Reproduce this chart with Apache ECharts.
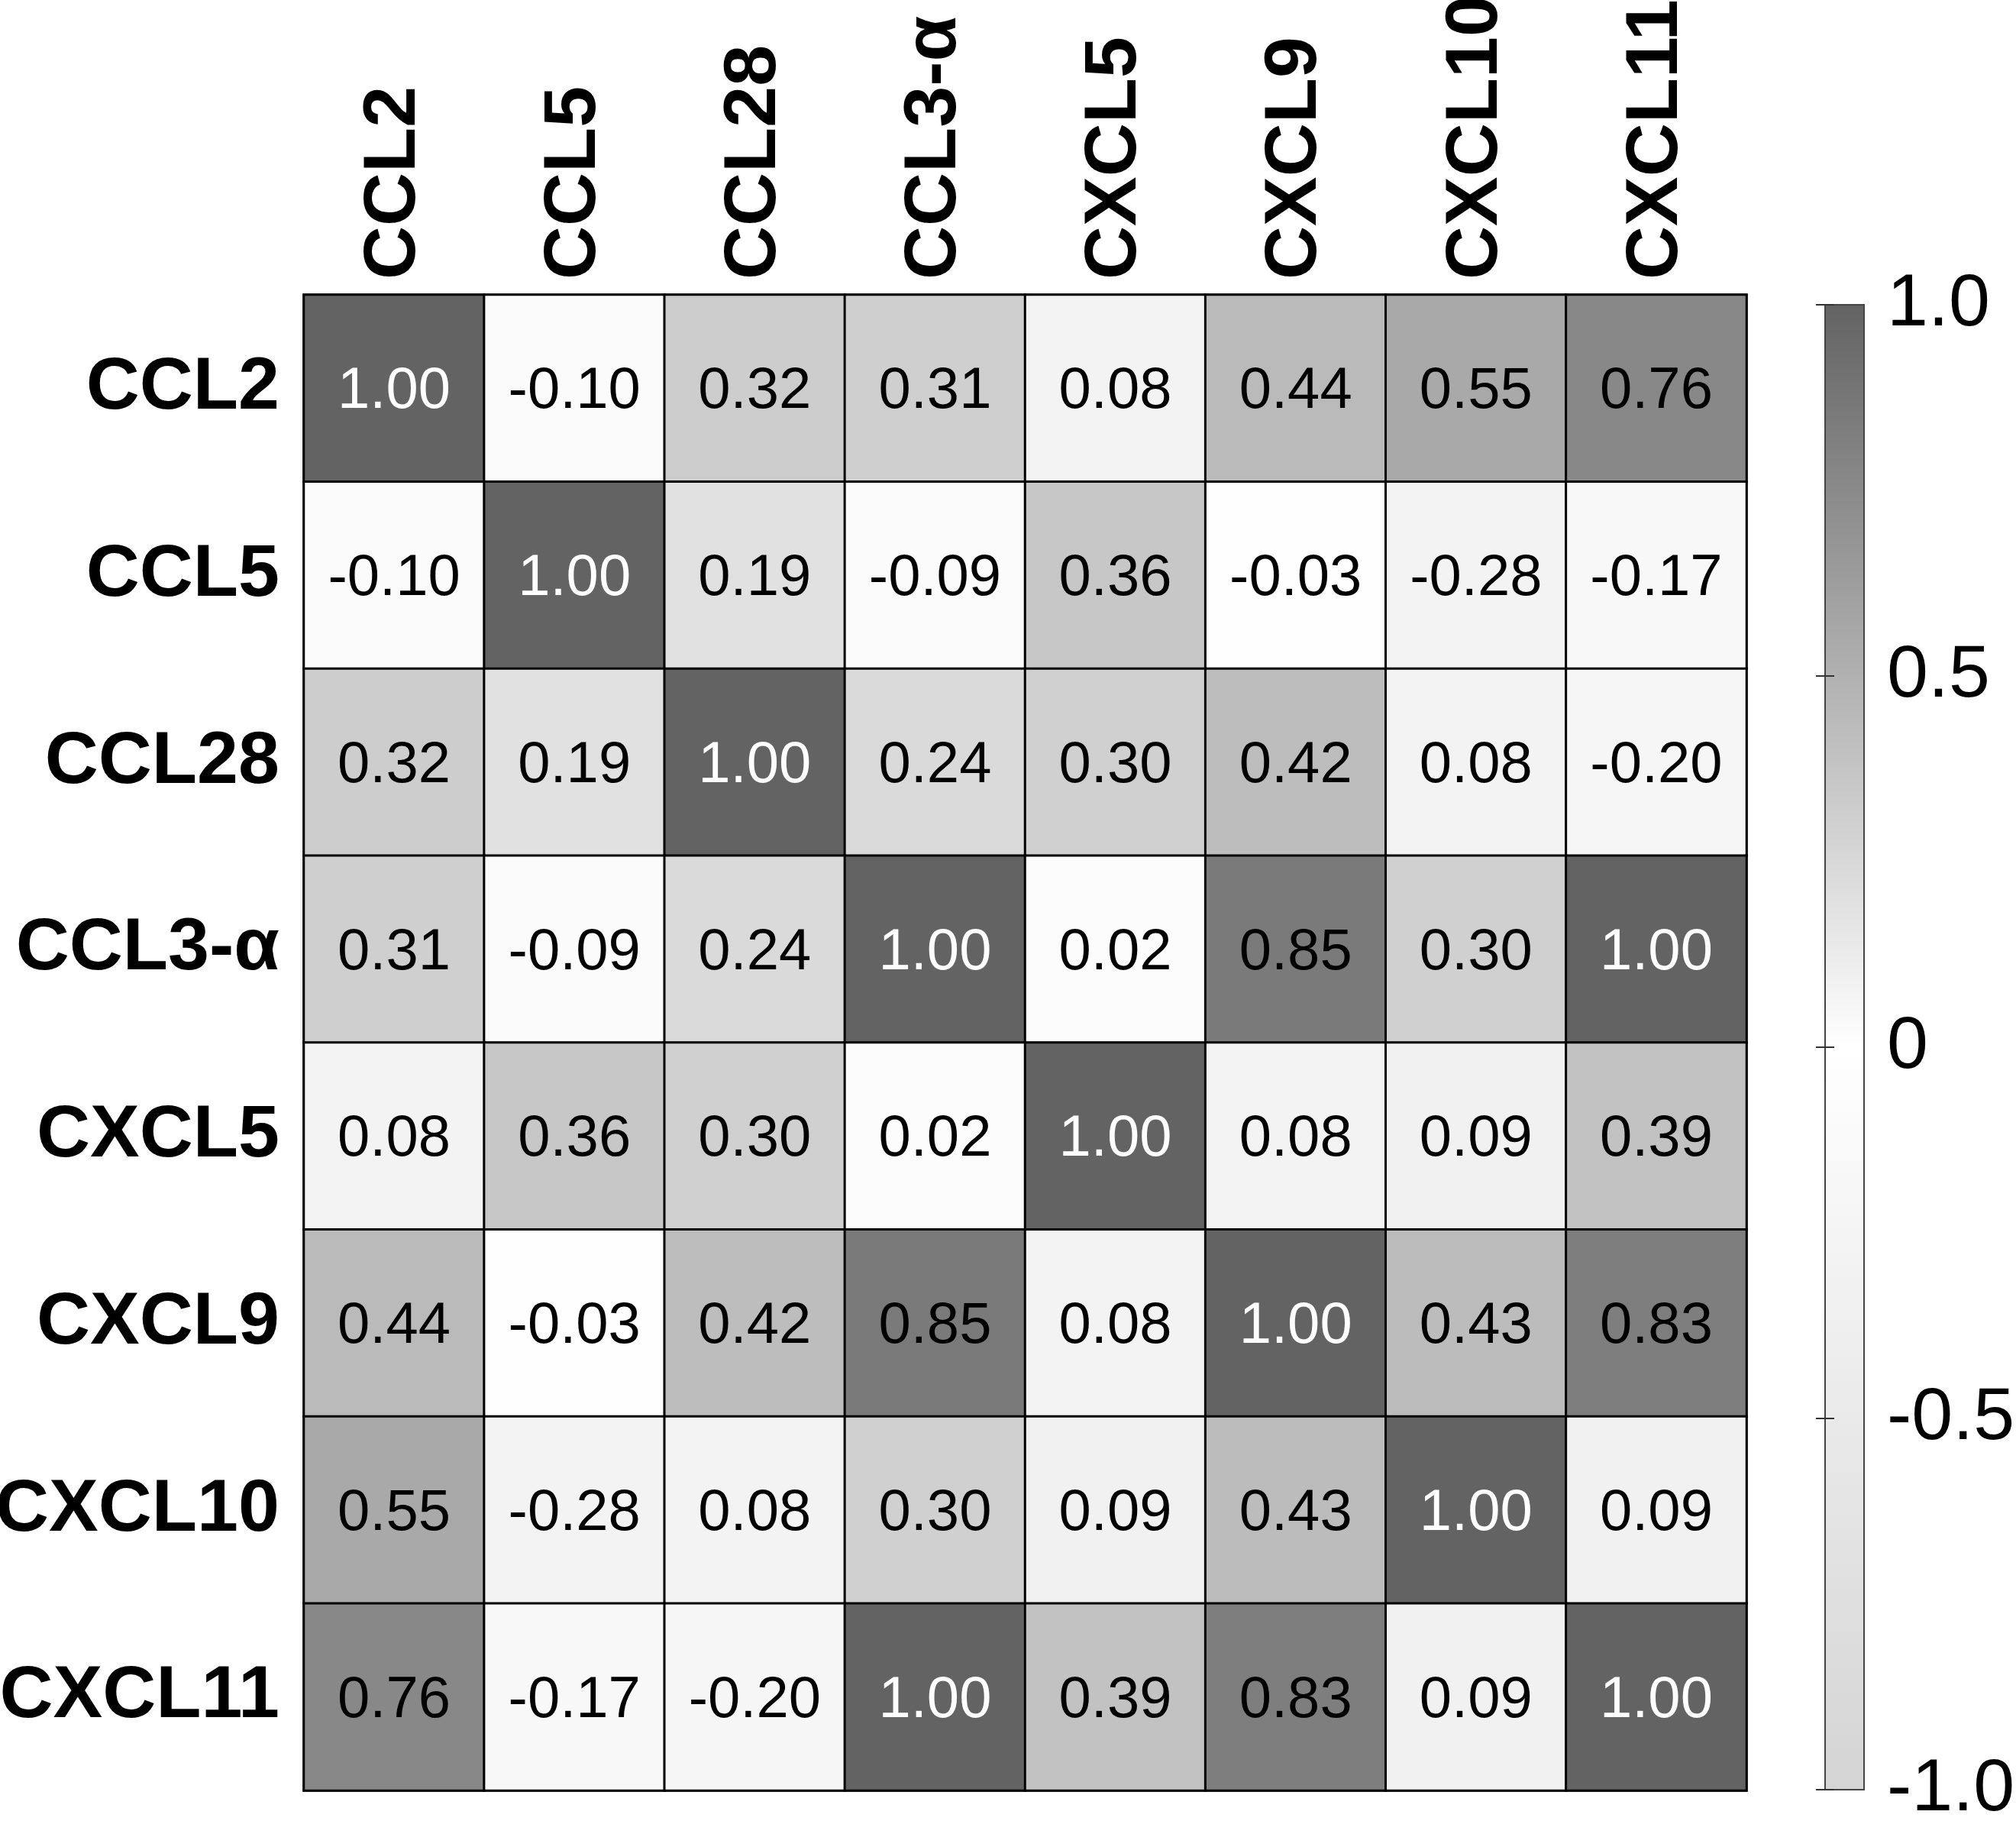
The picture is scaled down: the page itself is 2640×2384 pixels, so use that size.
<!DOCTYPE html>
<html lang="en">
<head>
    <meta charset="UTF-8">
    <title>Chemokine correlation</title>
    <script src="https://cdn.jsdelivr.net/npm/echarts@6/dist/echarts.min.js"></script>
    <style>
        html, body { margin: 0; padding: 0; background: #fff; }
        #main { width: 2640px; height: 2384px; }
    </style>
</head>
<body>
<div id="main"></div>
<script>
    // labels, same order for rows and columns
    const genes = ['CCL2', 'CCL5', 'CCL28', 'CCL3-α', 'CXCL5', 'CXCL9', 'CXCL10', 'CXCL11'];

    // correlation rows, top to bottom
    const rowCCL2   = [1.00, -0.10, 0.32, 0.31, 0.08, 0.44, 0.55, 0.76];
    const rowCCL5   = [-0.10, 1.00, 0.19, -0.09, 0.36, -0.03, -0.28, -0.17];
    const rowCCL28  = [0.32, 0.19, 1.00, 0.24, 0.30, 0.42, 0.08, -0.20];
    const rowCCL3a  = [0.31, -0.09, 0.24, 1.00, 0.02, 0.85, 0.30, 1.00];
    const rowCXCL5  = [0.08, 0.36, 0.30, 0.02, 1.00, 0.08, 0.09, 0.39];
    const rowCXCL9  = [0.44, -0.03, 0.42, 0.85, 0.08, 1.00, 0.43, 0.83];
    const rowCXCL10 = [0.55, -0.28, 0.08, 0.30, 0.09, 0.43, 1.00, 0.09];
    const rowCXCL11 = [0.76, -0.17, -0.20, 1.00, 0.39, 0.83, 0.09, 1.00];

    // colour bar
    const scaleMin = -1;
    const scaleMax = 1;
    const scaleTicks = [-1, -0.5, 0, 0.5, 1];

    const rows = [rowCCL2, rowCCL5, rowCCL28, rowCCL3a, rowCXCL5, rowCXCL9, rowCXCL10, rowCXCL11];

    let cells = [];
    rows.forEach(function (row, r) {
        row.forEach(function (v, c) {
            cells.push({
                value: [c, r, v],
                label: { color: v >= 0.995 ? '#ffffff' : '#000000' }
            });
        });
    });

    const lowColor = '#d4d4d4';
    const midColor = '#ffffff';
    const highColor = '#636363';

    let option = {
        backgroundColor: '#ffffff',
        animation: false,
        grid: [
            { left: 398, top: 386, width: 1889, height: 1958, outerBoundsMode: 'none',
              show: true, borderColor: '#000', borderWidth: 3, backgroundColor: 'transparent' },
            { left: 2390, top: 399, width: 51, height: 1944, outerBoundsMode: 'none' }
        ],
        xAxis: [
            {
                type: 'category', gridIndex: 0, position: 'top', data: genes,
                axisLine: { show: false }, axisTick: { show: false }, splitLine: { show: false },
                axisLabel: {
                    rotate: -90, margin: 20, color: '#000',
                    fontFamily: 'Liberation Sans, Arial, sans-serif', fontWeight: 'bold', fontSize: 97
                }
            },
            {
                type: 'value', gridIndex: 1, min: 0, max: 1, show: false
            }
        ],
        yAxis: [
            {
                type: 'category', gridIndex: 0, inverse: true, data: genes,
                axisLine: { show: false }, axisTick: { show: false }, splitLine: { show: false },
                axisLabel: {
                    margin: 32, color: '#000',
                    fontFamily: 'Liberation Sans, Arial, sans-serif', fontWeight: 'bold', fontSize: 97
                }
            },
            {
                type: 'value', gridIndex: 1, position: 'right', min: scaleMin, max: scaleMax, interval: 0.5, z: 5,
                axisLine: { show: false }, splitLine: { show: false },
                axisTick: { show: true, inside: true, length: 12, lineStyle: { color: '#333', width: 2 } },
                axisLabel: {
                    margin: 30, color: '#000', fontSize: 97, padding: [12, 0, 0, 0],
                    fontFamily: 'Liberation Sans, Arial, sans-serif',
                    formatter: function (v) { return v === 0 ? '0' : v.toFixed(1); }
                }
            },
            {
                type: 'value', gridIndex: 1, position: 'left', min: scaleMin, max: scaleMax, interval: 0.5, z: 5,
                axisLine: { show: false }, splitLine: { show: false }, axisLabel: { show: false },
                axisTick: { show: true, inside: true, length: 12, lineStyle: { color: '#333', width: 2 } }
            }
        ],
        visualMap: {
            show: false, type: 'continuous', seriesIndex: 0,
            min: scaleMin, max: scaleMax,
            inRange: { color: [lowColor, midColor, highColor] }
        },
        series: [
            {
                type: 'heatmap', xAxisIndex: 0, yAxisIndex: 0,
                data: cells,
                itemStyle: { borderColor: '#000', borderWidth: 3 },
                label: {
                    show: true, fontSize: 76, offset: [0, 5],
                    fontFamily: 'Liberation Sans, Arial, sans-serif',
                    formatter: function (p) { return p.value[2].toFixed(2); }
                },
                emphasis: { disabled: true }
            },
            {
                type: 'custom', xAxisIndex: 1, yAxisIndex: 1, z: 1,
                data: [[0, 1, scaleMin, scaleMax]],
                renderItem: function (params, api) {
                    let p1 = api.coord([api.value(0), api.value(3)]);
                    let p2 = api.coord([api.value(1), api.value(2)]);
                    return {
                        type: 'rect',
                        shape: { x: p1[0], y: p1[1], width: p2[0] - p1[0], height: p2[1] - p1[1] },
                        style: {
                            fill: new echarts.graphic.LinearGradient(0, 0, 0, 1, [
                                { offset: 0, color: highColor },
                                { offset: 0.5, color: midColor },
                                { offset: 1, color: lowColor }
                            ]),
                            stroke: '#444', lineWidth: 2
                        }
                    };
                }
            }
        ]
    };

    let myChart = echarts.init(document.querySelector('#main'));
    myChart.setOption(option);
</script>
</body>
</html>
